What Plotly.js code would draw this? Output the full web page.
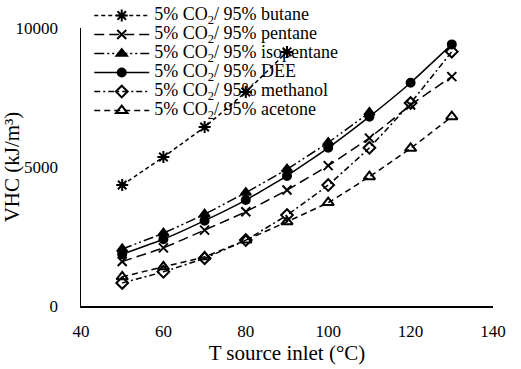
<!DOCTYPE html>
<html><head><meta charset="utf-8">
<script src="https://cdn.plot.ly/plotly-3.0.1.min.js"></script>
<style>body{margin:0;background:#fff}#c{width:521px;height:369px}</style>
</head><body><div id="c"></div>
<script>
const temps = [50, 60, 70, 80, 90, 100, 110, 120, 130];
const butane = [4350, 5360, 6440, 7700, 9140];
const pentane = [1600, 2090, 2730, 3390, 4170, 5050, 6040, 7230, 8250];
const isopentane = [2050, 2620, 3300, 4080, 4920, 5880, 6960];
const dee = [1860, 2400, 3070, 3810, 4680, 5690, 6810, 8030, 9410];
const methanol = [830, 1230, 1720, 2370, 3270, 4350, 5690, 7300, 9150];
const acetone = [1050, 1410, 1770, 2370, 3030, 3720, 4650, 5670, 6810];
const xTicks = [40, 60, 80, 100, 120, 140];
const yTicks = [0, 5000, 10000];
const yTickText = ['0', '5000', '10000'];
const fluids = ['butane', 'pentane', 'isopentane', 'DEE', 'methanol', 'acetone'];
const names = fluids.map(f => '<span style="font-size:18px">5% CO<sub>2</sub>/ 95% ' + f + '</span>');

const series = [
 {y: butane, sym: 'asterisk-open', size: 10, dash: '4px,3px'},
 {y: pentane, sym: 'x-thin-open', size: 9, dash: '10px,5px'},
 {y: isopentane, sym: 'triangle-up', size: 9, dash: '10px,3px,2px,3px,2px,3px'},
 {y: dee, sym: 'circle', size: 8, dash: 'solid'},
 {y: methanol, sym: 'diamond-open', size: 9, dash: '6px,3px,2px,3px'},
 {y: acetone, sym: 'triangle-up-open', size: 10, dash: '6px,4px'}
];
const traces = series.map((s, i) => ({
  x: temps.slice(0, s.y.length), y: s.y, name: names[i], type: 'scatter', mode: 'lines+markers',
  line: {color: '#000', width: 1.5, dash: s.dash, shape: 'spline', smoothing: 0.3},
  marker: {symbol: s.sym, size: s.size, color: '#000', line: {color: '#000', width: 2}}
}));
const fam = 'Times New Roman';
Plotly.newPlot('c', traces, {
  width: 521, height: 369,
  margin: {l: 81, r: 28, t: 28, b: 63, autoexpand: false},
  paper_bgcolor: '#fff', plot_bgcolor: '#fff',
  font: {family: fam, size: 17, color: '#000'},
  showlegend: true,
  legend: {x: 0.02, y: 1.097, xanchor: 'left', yanchor: 'top', bgcolor: 'rgba(0,0,0,0)',
           font: {family: fam, size: 11, color: '#000'}, itemwidth: 55, tracegroupgap: 0},
  xaxis: {range: [40, 140], tickvals: xTicks, showgrid: false, zeroline: false, automargin: false,
          showline: true, linecolor: '#000', linewidth: 1.5, ticks: '', ticklabelstandoff: 9,
          tickfont: {family: fam, size: 17, color: '#000'},
          title: {text: 'T source inlet (°C)', font: {family: fam, size: 21, color: '#000'}, standoff: 4}},
  yaxis: {range: [0, 10000], tickvals: yTicks, ticktext: yTickText, showgrid: false, zeroline: false, automargin: false,
          showline: true, linecolor: '#000', linewidth: 1.5, ticks: '', ticklabelstandoff: 18,
          tickfont: {family: fam, size: 17, color: '#000'},
          title: {text: 'VHC (kJ/m³)', font: {family: fam, size: 21, color: '#000'}, standoff: 8}}
}, {displayModeBar: false, staticPlot: true});
</script></body></html>
